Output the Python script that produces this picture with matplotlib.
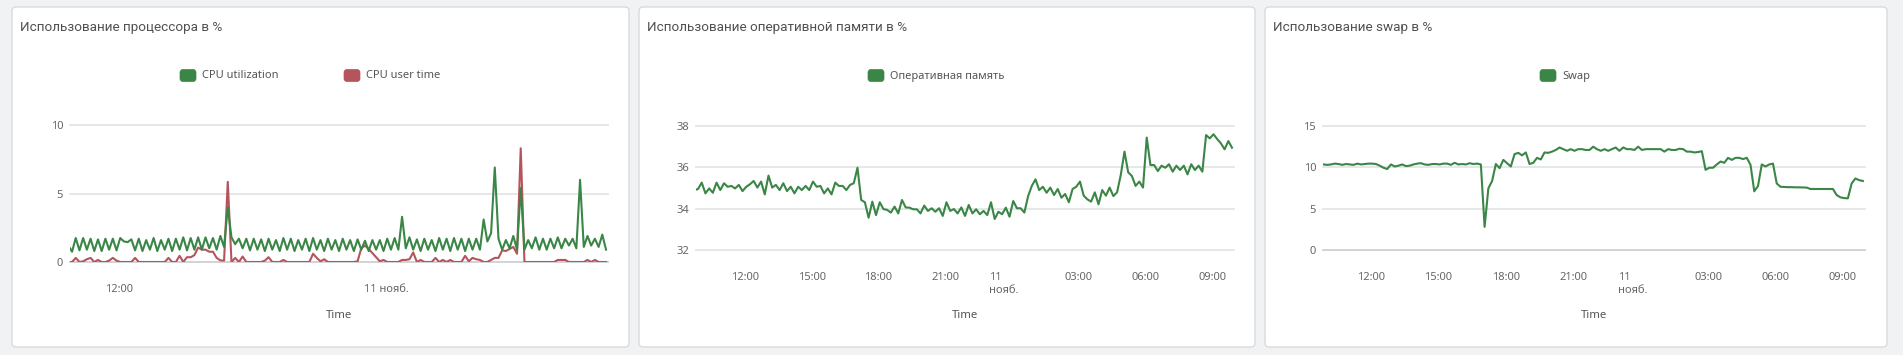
import matplotlib
matplotlib.use("Agg")
import matplotlib.pyplot as plt
import matplotlib.dates as mdates
from matplotlib.patches import FancyBboxPatch
from matplotlib.transforms import ScaledTranslation
import pandas as pd

W, H = 1903, 355

# samples every 10 minutes, 10 Nov 09:43 .. 11 Nov 09:53
times = pd.date_range("2024-11-10 09:43:20", periods=146, freq="10min")

cpu_util = [1.2, 0.75, 1.75, 0.85, 1.75, 0.9, 1.7, 0.8, 1.65, 0.8, 1.7, 0.9, 1.7, 0.85, 1.75, 1.5,
            1.45, 1.65, 0.85, 1.7, 0.8, 1.6, 0.9, 1.75, 0.8, 1.6, 0.9, 1.7, 0.8, 1.7, 0.9, 1.8,
            0.85, 1.75, 0.9, 1.8, 0.9, 1.8, 1.0, 1.75, 0.9, 1.9, 1.1, 4.0, 1.8, 1.3, 1.7, 1.0,
            1.7, 0.85, 1.7, 0.9, 1.65, 0.8, 1.7, 0.9, 1.6, 0.8, 1.75, 0.9, 1.7, 0.8, 1.6, 0.9,
            1.7, 0.8, 1.75, 0.9, 1.6, 0.8, 1.7, 0.9, 1.6, 0.8, 1.7, 0.9, 1.6, 0.8, 1.65, 0.9,
            1.55, 0.8, 1.6, 0.9, 1.6, 0.8, 1.7, 0.9, 1.75, 0.9, 3.3, 1.0, 1.8, 0.9, 1.65, 0.8,
            1.7, 0.9, 1.6, 0.8, 1.75, 0.9, 1.7, 0.8, 1.75, 0.9, 1.7, 0.8, 1.7, 0.9, 1.7, 0.9,
            3.1, 1.5, 2.1, 6.9, 1.7, 0.9, 1.6, 1.0, 1.9, 0.9, 5.4, 0.9, 1.6, 1.0, 1.8, 0.9,
            1.7, 0.9, 1.7, 1.0, 1.8, 1.0, 1.7, 1.2, 1.7, 1.0, 6.0, 1.1, 1.9, 1.2, 1.7, 1.1,
            2.0, 0.9]

cpu_user = [0, 0, 0.3, 0, 0.05, 0.2, 0.3, 0, 0.15, 0, 0, 0.1, 0.3, 0.1, 0, 0,
            0, 0, 0.3, 0, 0, 0, 0, 0, 0, 0, 0, 0.3, 0, 0, 0.45, 0,
            0.35, 0.35, 0.5, 1.05, 0.9, 0.9, 0.75, 0.75, 0.3, 0.12, 0.1, 5.85, 0, 0.3, 0, 0.4,
            0, 0, 0, 0, 0, 0.1, 0.35, 0, 0, 0, 0.15, 0, 0, 0, 0, 0,
            0, 0, 0.6, 0.3, 0.05, 0.2, 0, 0, 0, 0, 0, 0, 0, 0, 0.05, 1.0,
            1.2, 0.95, 0.65, 0.35, 0.05, 0.15, 0, 0, 0, 0, 0.15, 0.15, 0.2, 0.7, 0, 0.15,
            0, 0, 0, 0.3, 0, 0.15, 0, 0.15, 0, 0, 0, 0.45, 0.05, 0.3, 0.2, 0.15,
            0, 0, 0.15, 0.3, 0.3, 0.85, 0.8, 0.95, 1.1, 0.6, 8.3, 0, 0, 0, 0, 0,
            0, 0, 0, 0, 0.15, 0.15, 0.15, 0, 0, 0, 0, 0, 0.15, 0, 0.15, 0,
            0, 0]

ram = [34.9, 34.95, 35.26, 34.74, 34.98, 34.77, 35.26, 34.9, 35.23, 35.06, 35.1, 34.98, 35.15, 34.85,
       35.06, 35.18, 35.34, 35.02, 35.31, 34.69, 35.6, 35.02, 35.15, 34.9, 35.23, 34.85, 35.06, 34.74,
       35.06, 34.9, 35.1, 34.9, 35.31, 35.06, 35.1, 34.74, 34.98, 34.69, 35.26, 35.1, 35.1, 34.9,
       35.15, 35.23, 35.98, 34.42, 34.31, 33.56, 34.34, 33.69, 34.31, 33.98, 33.94, 33.81, 34.1, 33.77,
       34.42, 34.06, 34.05, 33.97, 33.97, 33.77, 34.15, 33.89, 34.02, 33.85, 34.02, 33.65, 34.31, 33.89,
       33.98, 33.77, 34.06, 33.65, 34.18, 33.77, 33.97, 33.73, 33.89, 33.69, 34.31, 33.5, 33.85, 33.73,
       34.05, 33.61, 34.37, 34.02, 34.02, 33.81, 34.6, 35.1, 35.42, 34.9, 35.06, 34.77, 35.02, 34.66,
       34.95, 34.53, 34.71, 34.31, 34.95, 35.06, 35.31, 34.63, 34.45, 34.34, 34.79, 34.21, 34.9, 34.63,
       35.02, 34.61, 34.79, 35.63, 36.76, 35.76, 35.58, 35.1, 35.31, 35.02, 37.44, 36.11, 36.11, 35.82,
       36.08, 35.98, 36.15, 35.79, 36.08, 35.87, 36.08, 35.66, 36.15, 35.87, 36.08, 35.79, 37.56, 37.4,
       37.6, 37.37, 37.16, 36.87, 37.27, 36.95]

swap = [10.4, 10.35, 10.3, 10.35, 10.45, 10.4, 10.3, 10.4, 10.35, 10.3, 10.45, 10.35, 10.4, 10.45,
        10.45, 10.4, 10.2, 9.95, 9.8, 10.35, 10.1, 10.2, 10.35, 10.15, 10.2, 10.35, 10.45, 10.5,
        10.35, 10.3, 10.4, 10.4, 10.35, 10.45, 10.45, 10.3, 10.55, 10.35, 10.4, 10.35, 10.5, 10.4,
        10.45, 10.35, 2.8, 7.45, 8.35, 10.4, 9.9, 10.9, 10.5, 10.1, 11.6, 11.75, 11.45, 11.8,
        10.4, 10.55, 11.15, 10.95, 11.8, 11.75, 11.9, 12.1, 12.4, 12.2, 12.0, 12.2, 12.0, 12.2,
        12.2, 12.1, 12.1, 12.5, 12.2, 12.0, 12.2, 12.0, 12.2, 12.4, 12.0, 12.4, 12.2, 12.2,
        12.1, 12.5, 12.1, 12.2, 12.2, 12.2, 12.2, 12.2, 11.9, 12.2, 12.1, 12.1, 12.25, 12.2,
        11.9, 11.9, 11.8, 11.85, 11.95, 9.7, 9.95, 9.95, 10.35, 10.7, 10.55, 11.15, 10.9, 11.15,
        11.15, 11.0, 11.15, 10.3, 7.1, 7.75, 10.35, 10.1, 10.35, 10.45, 8.05, 7.65, 7.62, 7.6,
        7.6, 7.58, 7.58, 7.56, 7.55, 7.38, 7.38, 7.38, 7.38, 7.38, 7.38, 7.38, 6.65, 6.37,
        6.28, 6.25, 8.05, 8.65, 8.45, 8.35]

titles = ["Использование процессора в %",
          "Использование оперативной памяти в %",
          "Использование swap в %"]

GREEN = "#3a8646"
RED = "#b5545d"
GRID = "#e4e5e7"
TXT = "#666666"

plt.rcParams["font.family"] = ["Noto Sans", "DejaVu Sans"]

fig = plt.figure(figsize=(W / 100, H / 100), dpi=100)
fig.patch.set_facecolor("#f1f2f4")

# pixel-space background layer for cards, titles and legends
bg = fig.add_axes([0, 0, 1, 1], zorder=0)
bg.set_xlim(0, W)
bg.set_ylim(H, 0)
bg.axis("off")


def card(x0, x1, title):
    bg.add_patch(FancyBboxPatch((x0, 7), x1 - x0, 340,
                                boxstyle="round,pad=0,rounding_size=4",
                                fc="white", ec="#d8dadd", lw=1))
    bg.text(x0 + 8, 27, title, fontsize=9.7, family=["Roboto", "DejaVu Sans"],
            color="#505050", va="center", ha="left")


def legend_item(x, label, color):
    bg.add_patch(FancyBboxPatch((x, 69.5), 16, 12,
                                boxstyle="round,pad=0,rounding_size=3",
                                fc=color, ec=color, lw=0.5))
    bg.text(x + 22, 76, label, fontsize=8, color="#555555", va="center", ha="left")


def panel(l, t, r, b, xlim, yticks, ticks, labels, dark_base):
    ax = fig.add_axes([l / W, 1 - b / H, (r - l) / W, (b - t) / H], zorder=1)
    ax.set_facecolor("none")
    for s in ax.spines.values():
        s.set_visible(False)
    ax.set_xlim(mdates.date2num(pd.Timestamp(xlim[0])), mdates.date2num(pd.Timestamp(xlim[1])))
    ax.set_ylim(yticks[0], yticks[-1])
    for v in yticks:
        c = "#cfd0d2" if (v == yticks[0] and dark_base) else GRID
        ax.axhline(v, color=c, lw=1.3, clip_on=False, zorder=0)
    ax.set_yticks(yticks)
    ax.set_xticks(mdates.date2num(pd.to_datetime(ticks)))
    ax.set_xticklabels(labels)
    ax.tick_params(axis="x", length=0, pad=16, labelsize=8, labelcolor=TXT)
    ax.tick_params(axis="y", length=0, pad=5, labelsize=8, labelcolor=TXT)
    for lbl in ax.get_xticklabels():
        if "\n" in lbl.get_text():
            lbl.set_multialignment("left")
            lbl.set_transform(lbl.get_transform() + ScaledTranslation(-8 / 100, 0, fig.dpi_scale_trans))
    bg.text((l + r) / 2, 316, "Time", fontsize=8.2, color="#555555", ha="center", va="center")
    return ax


x = mdates.date2num(times)

# panel 1: CPU
card(12, 629, titles[0])
legend_item(180, "CPU utilization", GREEN)
legend_item(344, "CPU user time", RED)
ax1 = panel(70, 125, 608, 262, ("2024-11-10 09:47:52", "2024-11-11 09:58:40"), [0, 5, 10],
            ["2024-11-10 12:00", "2024-11-11 00:00"], ["12:00", "11 нояб."], True)
ax1.plot(x, cpu_user, color=RED, lw=1.5, zorder=2)
ax1.plot(x, cpu_util, color=GREEN, lw=1.5, zorder=3)

long_ticks = ["2024-11-10 12:00", "2024-11-10 15:00", "2024-11-10 18:00", "2024-11-10 21:00",
              "2024-11-11 00:00", "2024-11-11 03:00", "2024-11-11 06:00", "2024-11-11 09:00"]
long_labels = ["12:00", "15:00", "18:00", "21:00", "11\nнояб.", "03:00", "06:00", "09:00"]

# panel 2: RAM
card(639, 1255, titles[1])
legend_item(868, "Оперативная память", GREEN)
ax2 = panel(696, 126, 1234, 250, ("2024-11-10 09:47:52", "2024-11-11 09:58:40"), [32, 34, 36, 38],
            long_ticks, long_labels, False)
ax2.plot(x, ram, color=GREEN, lw=1.5, zorder=3)

# panel 3: swap
card(1265, 1887, titles[2])
legend_item(1540, "Swap", GREEN)
ax3 = panel(1323, 126, 1865, 250, ("2024-11-10 09:51:50", "2024-11-11 09:59:00"), [0, 5, 10, 15],
            long_ticks, long_labels, True)
ax3.plot(x, swap, color=GREEN, lw=1.5, zorder=3)

fig.savefig("out.png", dpi=100, facecolor=fig.get_facecolor())
